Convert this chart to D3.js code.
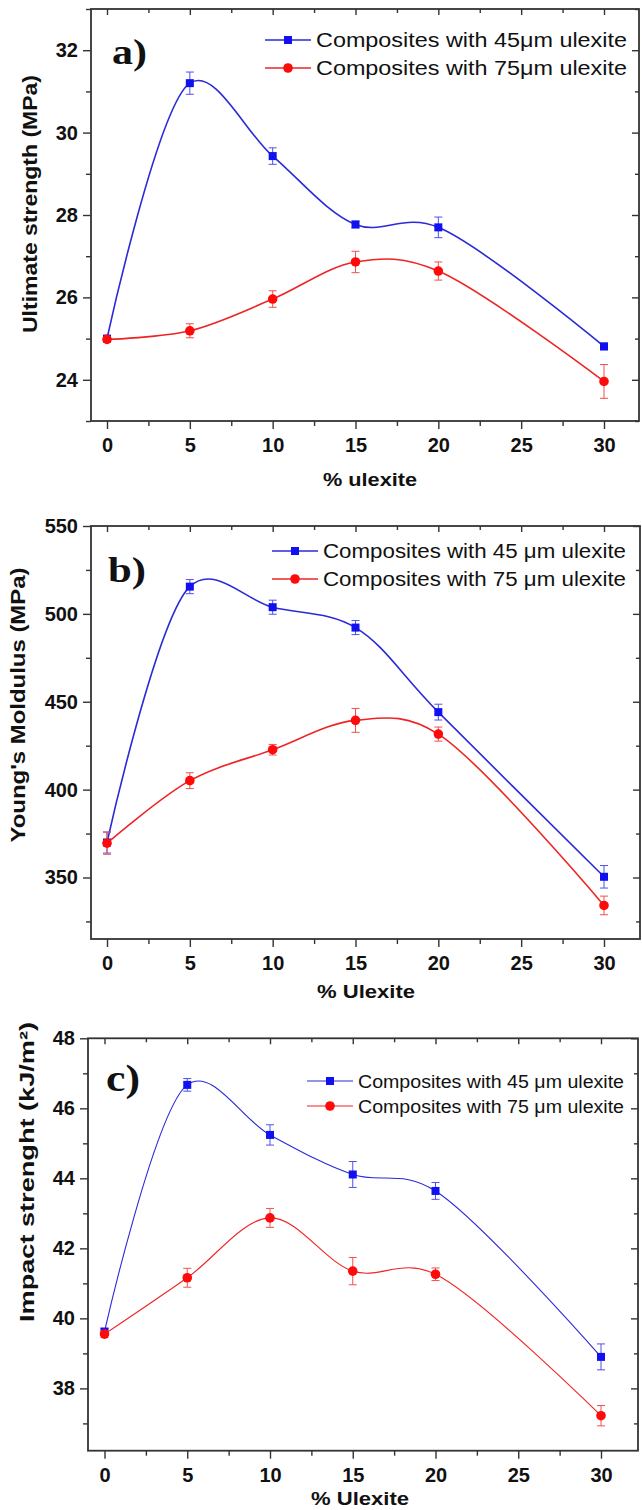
<!DOCTYPE html>
<html>
<head>
<meta charset="UTF-8">
<style>
  body { margin: 0; background: #fff; }
  svg { display: block; font-family: "Liberation Sans", Arial, sans-serif; }
</style>
</head>
<body>
<svg></svg>
<script src="https://d3js.org/d3.v7.min.js"></script>
<script>

let width = 642, height = 1510;

// % ulexite in the composite
const ulexite = [0, 5, 10, 15, 20, 30];
const xMajor = [0, 5, 10, 15, 20, 25, 30];
const xMinor = [2.5, 7.5, 12.5, 17.5, 22.5, 27.5];

// a) ultimate strength (MPa)
const strength45 = [25.0, 31.2, 29.43, 27.77, 27.70, 24.81];
const strength45Err = [0.05, 0.27, 0.2, 0.08, 0.25, 0.08];
const strength75 = [24.98, 25.19, 25.96, 26.86, 26.64, 23.96];
const strength75Err = [0.05, 0.17, 0.2, 0.26, 0.22, 0.41];
const strengthTicks = [24, 26, 28, 30, 32];
const strengthMinor = [23, 25, 27, 29, 31, 33];

// b) Young's modulus (MPa)
const modulus45 = [369.9, 515.5, 503.8, 492.2, 444.1, 350.4];
const modulus45Err = [6, 4, 4, 4, 4.5, 6.4];
const modulus75 = [369.5, 405.1, 422.7, 439.4, 431.6, 334.1];
const modulus75Err = [6.3, 4.5, 3, 6.8, 4, 5.3];
const modulusTicks = [350, 400, 450, 500, 550];
const modulusMinor = [325, 375, 425, 475, 525];

// c) impact strength (kJ/m2)
const impact45 = [39.62, 46.67, 45.24, 44.11, 43.64, 38.9];
const impact45Err = [0.1, 0.18, 0.29, 0.37, 0.24, 0.37];
const impact75 = [39.55, 41.16, 42.87, 41.35, 41.26, 37.22];
const impact75Err = [0.1, 0.27, 0.27, 0.39, 0.18, 0.29];
const impactTicks = [38, 40, 42, 44, 46, 48];
const impactMinor = [37, 39, 41, 43, 45, 47];

let svg = d3.select("svg")
    .attr("width", width)
    .attr("height", height);

let panels = [
  {
    letter: "a)", letterX: 112, letterY: 64, letterSize: 36, letterLen: 35,
    x0: 107, x30: 604, left: 91, right: 639,
    yDomain: [23, 33], top: 9, bottom: 421,
    ticks: strengthTicks, minor: strengthMinor,
    s45: strength45, e45: strength45Err, s75: strength75, e75: strength75Err,
    ylabel: "Ultimate strength (MPa)", ylabX: 37, ylabY: 204, ylabSize: 20, ylabLen: 258,
    xlabel: "% ulexite", xlabX: 370, xlabY: 486, xlabLen: 94,
    legend: ["Composites with 45\u03bcm ulexite", "Composites with 75\u03bcm ulexite"],
    legX: 265, legRows: [40, 68], legSize: 20, legLen: 311,
    lineW: 1.6
  },
  {
    letter: "b)", letterX: 108, letterY: 582, letterSize: 36, letterLen: 38,
    x0: 107, x30: 604, left: 91, right: 640,
    yDomain: [315, 550], top: 526, bottom: 939,
    ticks: modulusTicks, minor: modulusMinor,
    s45: modulus45, e45: modulus45Err, s75: modulus75, e75: modulus75Err,
    ylabel: "Young's Moldulus (MPa)", ylabX: 25, ylabY: 705, ylabSize: 21, ylabLen: 275,
    xlabel: "% Ulexite", xlabX: 366, xlabY: 998, xlabLen: 98,
    legend: ["Composites with 45 \u03bcm ulexite", "Composites with 75 \u03bcm ulexite"],
    legX: 272, legRows: [551, 579], legSize: 20, legLen: 303,
    lineW: 1.6
  },
  {
    letter: "c)", letterX: 106, letterY: 1091, letterSize: 38, letterLen: 34,
    x0: 104.5, x30: 601, left: 88, right: 638,
    yDomain: [36.22, 48], top: 1038.3, bottom: 1450.7,
    ticks: impactTicks, minor: impactMinor,
    s45: impact45, e45: impact45Err, s75: impact75, e75: impact75Err,
    ylabel: "Impact strenght (kJ/m\u00b2)", ylabX: 34, ylabY: 1172, ylabSize: 21, ylabLen: 300,
    xlabel: "% Ulexite", xlabX: 360, xlabY: 1505, xlabLen: 98,
    legend: ["Composites with 45 \u03bcm ulexite", "Composites with 75 \u03bcm ulexite"],
    legX: 307, legRows: [1081, 1106], legSize: 18, legLen: 266,
    lineW: 1.1
  }
];

const blue = "#1010f0", blueLine = "#2a2ad8", blueErr = "#5050f0";
const red = "#ff0a0a", redLine = "#ee2424", redErr = "#f05050";

panels.forEach(p => {
  let g = svg.append("g");

  let x = d3.scaleLinear().domain([0, 30]).range([p.x0, p.x30]);
  let y = d3.scaleLinear().domain(p.yDomain).range([p.bottom, p.top]);

  // axes: ticks outside on left/bottom, inside on top/right
  function styleAxis(sel) {
    sel.select(".domain").remove();
    sel.selectAll("line").attr("stroke", "#333").attr("stroke-width", 1.4);
    sel.selectAll("text")
      .attr("fill", "#111")
      .style("font-size", "20px")
      .style("font-weight", "bold");
  }

  g.append("g").attr("transform", "translate(0," + p.bottom + ")")
    .call(d3.axisBottom(x).tickValues(xMajor).tickSize(8).tickPadding(9))
    .call(styleAxis);
  g.append("g").attr("transform", "translate(0," + p.bottom + ")")
    .call(d3.axisBottom(x).tickValues(xMinor).tickSize(5).tickFormat(""))
    .call(styleAxis);
  g.append("g").attr("transform", "translate(0," + p.top + ")")
    .call(d3.axisTop(x).tickValues(xMajor).tickSize(-6).tickFormat(""))
    .call(styleAxis);
  g.append("g").attr("transform", "translate(0," + p.top + ")")
    .call(d3.axisTop(x).tickValues(xMinor).tickSize(-4).tickFormat(""))
    .call(styleAxis);

  g.append("g").attr("transform", "translate(" + p.left + ",0)")
    .call(d3.axisLeft(y).tickValues(p.ticks).tickSize(8).tickPadding(5))
    .call(styleAxis);
  g.append("g").attr("transform", "translate(" + p.left + ",0)")
    .call(d3.axisLeft(y).tickValues(p.minor).tickSize(5).tickFormat(""))
    .call(styleAxis);
  g.append("g").attr("transform", "translate(" + p.right + ",0)")
    .call(d3.axisRight(y).tickValues(p.ticks).tickSize(-7).tickFormat(""))
    .call(styleAxis);
  g.append("g").attr("transform", "translate(" + p.right + ",0)")
    .call(d3.axisRight(y).tickValues(p.minor).tickSize(-4).tickFormat(""))
    .call(styleAxis);

  // frame
  g.append("rect")
    .attr("x", p.left).attr("y", p.top)
    .attr("width", p.right - p.left).attr("height", p.bottom - p.top)
    .attr("fill", "none").attr("stroke", "#333").attr("stroke-width", 1.8);

  // catmull-rom spline through the points
  let line = d3.line()
    .x(d => x(d[0]))
    .y(d => y(d[1]))
    .curve(d3.curveCatmullRom.alpha(0.25));

  let series = [
    { vals: p.s45, err: p.e45, color: blue, lc: blueLine, ec: blueErr, shape: "square" },
    { vals: p.s75, err: p.e75, color: red, lc: redLine, ec: redErr, shape: "circle" }
  ];

  series.forEach(s => {
    let pts = ulexite.map((u, i) => [u, s.vals[i], s.err[i]]);

    g.append("path")
      .datum(pts)
      .attr("fill", "none")
      .attr("stroke", s.lc)
      .attr("stroke-width", p.lineW)
      .attr("d", line);

    let eb = g.append("g").selectAll("g")
      .data(pts).enter().append("g")
      .attr("stroke", s.ec).attr("stroke-width", 1);
    eb.append("line")
      .attr("x1", d => x(d[0])).attr("x2", d => x(d[0]))
      .attr("y1", d => y(d[1] - d[2])).attr("y2", d => y(d[1] + d[2]));
    eb.append("line")
      .attr("x1", d => x(d[0]) - 4).attr("x2", d => x(d[0]) + 4)
      .attr("y1", d => y(d[1] - d[2])).attr("y2", d => y(d[1] - d[2]));
    eb.append("line")
      .attr("x1", d => x(d[0]) - 4).attr("x2", d => x(d[0]) + 4)
      .attr("y1", d => y(d[1] + d[2])).attr("y2", d => y(d[1] + d[2]));

    if (s.shape == "square") {
      g.append("g").selectAll("rect")
        .data(pts).enter().append("rect")
        .attr("x", d => x(d[0]) - 4).attr("y", d => y(d[1]) - 4)
        .attr("width", 8).attr("height", 8)
        .attr("fill", s.color);
    } else {
      g.append("g").selectAll("circle")
        .data(pts).enter().append("circle")
        .attr("cx", d => x(d[0])).attr("cy", d => y(d[1]))
        .attr("r", 4.8)
        .attr("fill", s.color);
    }
  });

  // legend
  series.forEach((s, i) => {
    let ly = p.legRows[i];
    g.append("line")
      .attr("x1", p.legX).attr("x2", p.legX + 46)
      .attr("y1", ly).attr("y2", ly)
      .attr("stroke", s.lc).attr("stroke-width", p.lineW);
    if (s.shape == "square") {
      g.append("rect")
        .attr("x", p.legX + 19).attr("y", ly - 4)
        .attr("width", 8).attr("height", 8)
        .attr("fill", s.color);
    } else {
      g.append("circle")
        .attr("cx", p.legX + 23).attr("cy", ly).attr("r", 4.8)
        .attr("fill", s.color);
    }
    g.append("text")
      .attr("x", p.legX + 51).attr("y", ly + 7)
      .attr("textLength", p.legLen)
      .attr("lengthAdjust", "spacingAndGlyphs")
      .style("font-size", p.legSize + "px")
      .attr("fill", "#111")
      .text(p.legend[i]);
  });

  // panel letter
  g.append("text")
    .attr("x", p.letterX).attr("y", p.letterY)
    .attr("textLength", p.letterLen)
    .attr("lengthAdjust", "spacingAndGlyphs")
    .style("font-family", "'Liberation Serif', 'Times New Roman', serif")
    .style("font-weight", "bold")
    .style("font-size", p.letterSize + "px")
    .attr("fill", "#111")
    .text(p.letter);

  // axis titles
  g.append("text")
    .attr("transform", "translate(" + p.ylabX + "," + p.ylabY + ") rotate(-90)")
    .attr("text-anchor", "middle")
    .attr("textLength", p.ylabLen)
    .attr("lengthAdjust", "spacingAndGlyphs")
    .style("font-size", p.ylabSize + "px")
    .style("font-weight", "bold")
    .attr("fill", "#111")
    .text(p.ylabel);

  g.append("text")
    .attr("x", p.xlabX).attr("y", p.xlabY)
    .attr("text-anchor", "middle")
    .attr("textLength", p.xlabLen)
    .attr("lengthAdjust", "spacingAndGlyphs")
    .style("font-size", "19px")
    .style("font-weight", "bold")
    .attr("fill", "#111")
    .text(p.xlabel);
});

</script>
</body>
</html>
